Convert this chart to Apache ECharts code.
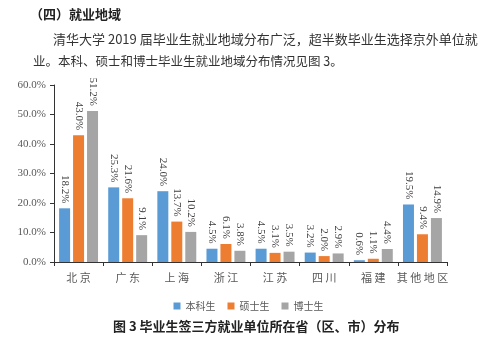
<!DOCTYPE html>
<html>
<head>
<meta charset="utf-8">
<script src="https://cdn.jsdelivr.net/npm/echarts@6/dist/echarts.min.js"></script>
<style>
  html, body { margin: 0; padding: 0; background: #fff; }
  #chart { width: 497px; height: 342px; }
</style>
</head>
<body>
<div id="chart"></div>
<script>
// Regions where graduates signed with employers
const regions = ['北京', '广东', '上海', '浙江', '江苏', '四川', '福建', '其他地区'];
// Share of each degree level (%)
const bachelor = [18.2, 25.3, 24.0, 4.5, 4.5, 3.2, 0.6, 19.5];
const master   = [43.0, 21.6, 13.7, 6.1, 3.1, 2.0, 1.1, 9.4];
const doctor   = [51.2, 9.1, 10.2, 3.8, 3.5, 2.9, 4.4, 14.9];
const seriesNames = ['本科生', '硕士生', '博士生'];
const yTicks = { min: 0, max: 60, interval: 10 };

const cjk = '"Noto Sans CJK SC", sans-serif';
const serif = '"Liberation Serif", "DejaVu Serif", serif';

const chart = echarts.init(document.getElementById('chart'), null, { renderer: 'canvas' });

function barSeries(name, data, color) {
  return {
    name: name,
    type: 'bar',
    data: data,
    barWidth: 11,
    barGap: '27%',
    itemStyle: { color: color },
    label: {
      show: true,
      position: 'top',
      rotate: -90,
      align: 'right',
      verticalAlign: 'middle',
      distance: 5,
      fontFamily: serif,
      fontSize: 11,
      color: '#404040',
      formatter: p => p.value.toFixed(1) + '%'
    }
  };
}

chart.setOption({
  animation: false,
  backgroundColor: '#fff',
  grid: { left: 54, right: 50, top: 85, bottom: 80, containLabel: false },
  legend: {
    data: seriesNames,
    left: 'center',
    top: 296,
    itemWidth: 7,
    itemHeight: 7,
    itemGap: 12,
    icon: 'rect',
    textStyle: { fontFamily: cjk, fontSize: 10, color: '#595959' }
  },
  xAxis: {
    type: 'category',
    data: regions,
    axisLine: { lineStyle: { color: '#333', width: 1 } },
    axisTick: { show: true, length: 4, lineStyle: { color: '#333' } },
    axisLabel: {
      interval: 0, fontFamily: cjk, fontSize: 11, color: '#595959', margin: 10,
      formatter: v => v.split('').join(' ')
    }
  },
  yAxis: {
    type: 'value',
    min: yTicks.min,
    max: yTicks.max,
    interval: yTicks.interval,
    splitLine: { show: false },
    axisLine: { show: true, lineStyle: { color: '#333', width: 1 } },
    axisTick: { show: true, length: 4, lineStyle: { color: '#333' } },
    axisLabel: {
      fontFamily: serif, fontSize: 11, color: '#595959', margin: 8,
      formatter: v => v.toFixed(1) + '%'
    }
  },
  series: [
    barSeries(seriesNames[0], bachelor, '#5B9BD5'),
    barSeries(seriesNames[1], master, '#ED7D31'),
    barSeries(seriesNames[2], doctor, '#A5A5A5')
  ],
  graphic: [
    {
      type: 'text', left: 30, top: 8,
      style: { text: '（四）就业地域', font: 'bold 13px ' + cjk, fill: '#222' }
    },
    {
      type: 'text', left: 53, top: 33,
      style: { text: '清华大学 2019 届毕业生就业地域分布广泛，超半数毕业生选择京外单位就', font: '13px ' + cjk, fill: '#333' }
    },
    {
      type: 'text', left: 33, top: 55,
      style: { text: '业。本科、硕士和博士毕业生就业地域分布情况见图 3。', font: '12.5px ' + cjk, fill: '#333' }
    },
    {
      type: 'text', left: 113, top: 320,
      style: { text: '图 3 毕业生签三方就业单位所在省（区、市）分布', font: 'bold 13px ' + cjk, fill: '#222' }
    }
  ]
});
</script>
</body>
</html>
